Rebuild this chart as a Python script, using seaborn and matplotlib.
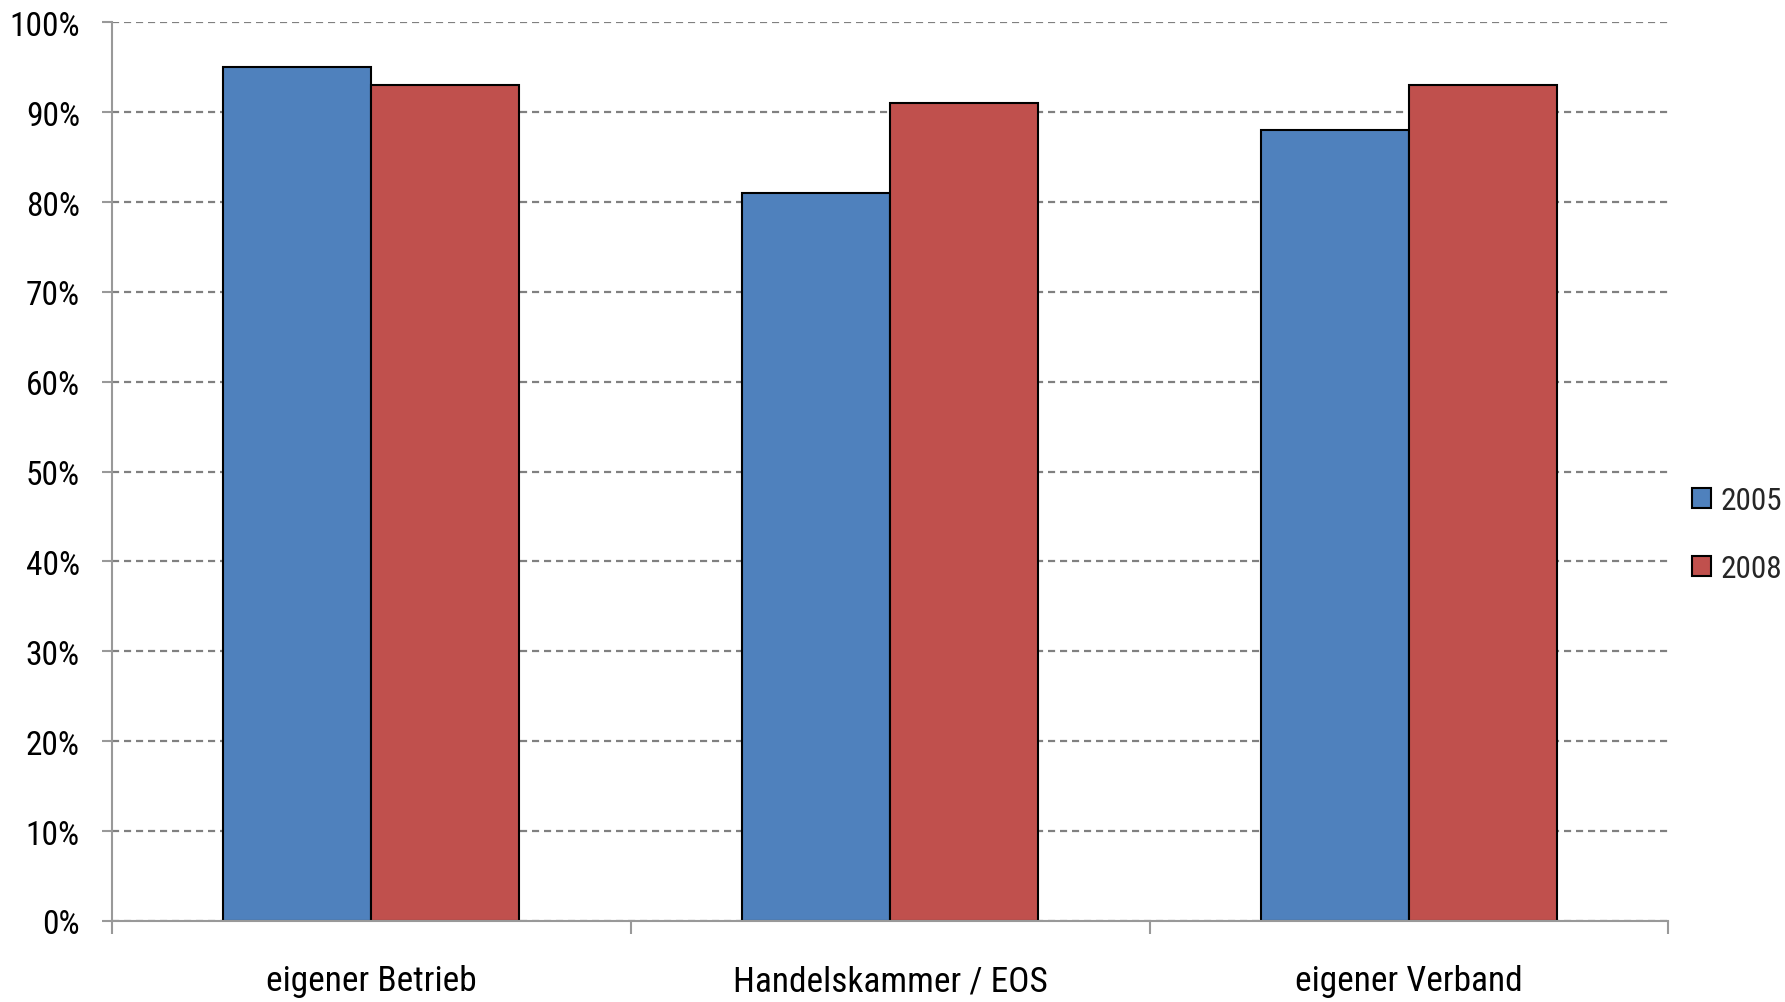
import pandas as pd
import matplotlib
matplotlib.use('Agg')
import matplotlib.pyplot as plt
import seaborn as sns
from matplotlib.ticker import PercentFormatter, FixedLocator

categories = ['eigener Betrieb', 'Handelskammer / EOS', 'eigener Verband']
years = ['2005', '2008']
values_2005 = [95, 81, 88]
values_2008 = [93, 91, 93]
colors = ['#4F81BD', '#C0504D']

df = pd.DataFrame({
    'category': categories * 2,
    'year': [years[0]] * 3 + [years[1]] * 3,
    'value': values_2005 + values_2008,
})

sns.set_style('white')
plt.rcParams['font.family'] = ['Roboto Condensed', 'Liberation Sans', 'DejaVu Sans']

fig = plt.figure(figsize=(17.85, 10.03), dpi=100)
ax = fig.add_axes([0.0627, 0.0808, 0.872, 0.896])

sns.barplot(data=df, x='category', y='value', hue='year', palette=colors,
            width=0.57, edgecolor='black', linewidth=1.5, saturation=1,
            ax=ax, legend=True)

ax.set_ylim(0, 100)
ax.set_xlim(-0.5, 2.5)
ax.set_yticks(range(0, 101, 10))
ax.yaxis.set_major_formatter(PercentFormatter(decimals=0))
ax.set_xlabel('')
ax.set_ylabel('')

ax.grid(axis='y', linestyle=(0, (3.2, 2.2)), color='#808080', linewidth=1.6)
ax.set_axisbelow(True)

for side in ['top', 'right']:
    ax.spines[side].set_visible(False)
for side in ['left', 'bottom']:
    ax.spines[side].set_color('#999999')
    ax.spines[side].set_linewidth(1.5)

ax.tick_params(axis='y', length=7, width=1.5, color='#999999', pad=16,
               labelsize=24, labelcolor='black', left=True)
ax.tick_params(axis='x', which='major', length=0, pad=31,
               labelsize=25.5, labelcolor='black')
ax.xaxis.set_minor_locator(FixedLocator([-0.5, 0.5, 1.5, 2.5]))
ax.tick_params(axis='x', which='minor', length=9, width=1.5,
               color='#999999', bottom=True)

ax.legend_.remove()
handles = [plt.Rectangle((0, 0), 1, 1, facecolor=c, edgecolor='black',
                         linewidth=1.5) for c in colors]
fig.legend(handles, years, loc='center left', bbox_to_anchor=(0.948, 0.466),
           frameon=False, fontsize=22.5, handlelength=0.6, handleheight=0.6,
           handletextpad=0.3, labelspacing=1.25, borderpad=0, borderaxespad=0)

fig.savefig('out.png', dpi=100)
